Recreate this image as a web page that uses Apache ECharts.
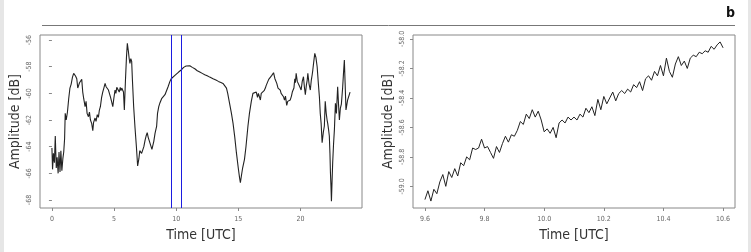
<!DOCTYPE html>
<html><head><meta charset="utf-8">
<script src="https://cdn.jsdelivr.net/npm/echarts@6/dist/echarts.min.js"></script>
<style>html,body{margin:0;padding:0;background:#fff;}#c{width:751px;height:252px;}</style>
</head><body><div id="c"></div>
<script>
// Panel a: full day
const dayTime = [0.00,0.05,0.12,0.20,0.27,0.35,0.42,0.50,0.57,0.65,0.72,0.80,0.88,0.95,1.02,1.07,1.15,1.25,1.35,1.45,1.55,1.65,1.75,1.82,1.90,2.00,2.08,2.14,2.22,2.30,2.40,2.48,2.56,2.67,2.75,2.83,2.94,3.02,3.10,3.20,3.29,3.35,3.47,3.55,3.65,3.74,3.82,3.90,4.00,4.09,4.18,4.28,4.36,4.45,4.55,4.63,4.72,4.80,4.90,4.98,5.08,5.15,5.22,5.30,5.35,5.42,5.50,5.56,5.62,5.70,5.76,5.83,5.92,6.00,6.07,6.15,6.22,6.28,6.35,6.42,6.48,6.58,6.69,6.80,6.90,7.00,7.07,7.14,7.22,7.30,7.40,7.50,7.58,7.67,7.75,7.85,7.95,8.05,8.10,8.20,8.30,8.43,8.50,8.60,8.70,8.83,8.95,9.10,9.23,9.35,9.50,9.60,9.75,9.90,10.03,10.20,10.40,10.60,10.80,10.96,11.10,11.30,11.50,11.70,11.90,12.10,12.30,12.50,12.70,12.97,13.20,13.40,13.60,13.77,13.90,14.05,14.15,14.30,14.45,14.58,14.72,14.85,15.00,15.10,15.17,15.25,15.35,15.50,15.62,15.78,15.90,16.05,16.18,16.25,16.32,16.45,16.55,16.62,16.70,16.78,16.85,16.98,17.08,17.18,17.25,17.35,17.45,17.50,17.60,17.70,17.78,17.84,17.95,18.03,18.10,18.20,18.28,18.38,18.45,18.52,18.64,18.72,18.80,18.90,18.98,19.08,19.18,19.28,19.35,19.40,19.48,19.55,19.60,19.66,19.75,19.85,19.95,20.06,20.15,20.25,20.32,20.40,20.48,20.55,20.60,20.70,20.80,20.88,20.95,21.00,21.08,21.16,21.25,21.35,21.45,21.53,21.60,21.67,21.75,21.85,21.93,22.00,22.08,22.15,22.20,22.28,22.33,22.38,22.42,22.46,22.50,22.55,22.60,22.67,22.74,22.82,22.90,23.00,23.07,23.14,23.22,23.30,23.40,23.47,23.54,23.60,23.67,23.73,23.80,23.90,24.00];
const dayAmp = [-64.1,-65.7,-64.5,-65.2,-63.2,-65.6,-64.8,-66.0,-64.4,-65.9,-64.3,-65.8,-64.9,-64.4,-63.4,-61.5,-62.0,-61.4,-60.4,-59.6,-59.3,-58.8,-58.5,-58.4,-58.7,-58.9,-59.6,-59.7,-59.2,-59.3,-58.95,-59.9,-60.4,-61.0,-60.6,-61.5,-61.75,-61.4,-62.0,-62.25,-62.8,-62.2,-61.85,-62.1,-61.6,-61.8,-61.25,-61.0,-60.3,-59.9,-59.6,-59.25,-59.5,-59.4,-59.75,-59.9,-60.3,-60.6,-61.0,-60.4,-59.75,-60.0,-59.55,-59.7,-59.5,-59.9,-59.55,-59.8,-59.6,-59.7,-59.9,-61.25,-59.0,-57.3,-56.25,-56.8,-57.4,-57.75,-57.4,-57.6,-59.0,-61.0,-62.6,-64.0,-65.45,-64.9,-64.3,-64.2,-64.5,-64.6,-64.0,-63.5,-63.2,-62.95,-63.3,-63.6,-63.9,-64.2,-64.2,-63.6,-63.0,-62.45,-61.5,-61.0,-60.7,-60.4,-60.25,-60.1,-59.95,-59.5,-59.1,-58.9,-58.75,-58.65,-58.6,-58.4,-58.25,-58.05,-57.95,-57.9,-57.93,-58.05,-58.15,-58.3,-58.4,-58.5,-58.6,-58.68,-58.78,-58.9,-59.0,-59.1,-59.18,-59.25,-59.35,-59.6,-60.0,-60.75,-61.5,-62.25,-63.3,-64.45,-65.6,-66.3,-66.7,-66.2,-65.6,-64.95,-64.0,-62.45,-61.5,-60.6,-60.0,-60.15,-59.95,-59.9,-60.3,-60.0,-60.25,-60.5,-60.0,-60.1,-59.8,-59.6,-59.4,-59.3,-58.95,-58.9,-58.85,-58.65,-58.8,-58.45,-58.9,-59.0,-59.25,-59.6,-59.45,-59.75,-60.0,-59.85,-60.25,-60.5,-60.2,-60.9,-60.6,-60.7,-60.5,-60.2,-59.9,-59.9,-59.6,-58.9,-59.2,-58.5,-59.1,-59.0,-59.5,-59.75,-59.1,-58.75,-59.5,-60.1,-59.4,-59.0,-58.5,-59.3,-59.75,-59.0,-58.6,-58.25,-57.6,-57.0,-57.3,-58.0,-59.3,-60.25,-61.5,-62.25,-63.7,-62.9,-62.45,-60.6,-61.5,-62.0,-62.25,-62.8,-63.2,-64.5,-65.95,-66.9,-68.1,-66.6,-65.2,-63.8,-62.7,-60.75,-61.5,-59.5,-60.8,-62.0,-61.1,-60.8,-59.6,-58.5,-57.5,-59.2,-61.25,-60.9,-60.5,-60.2,-59.9];
const windowBounds = [9.6, 10.45];
const dayTicksX = [0, 5, 10, 15, 20];
const dayTicksY = [-56, -58, -60, -62, -64, -66, -68];

// Panel b: zoom window
const zoomTime = [9.60,9.61,9.62,9.63,9.64,9.65,9.66,9.67,9.68,9.69,9.70,9.71,9.72,9.73,9.74,9.75,9.76,9.77,9.78,9.79,9.80,9.81,9.82,9.83,9.84,9.85,9.86,9.87,9.88,9.89,9.90,9.91,9.92,9.93,9.94,9.95,9.96,9.97,9.98,9.99,10.00,10.01,10.02,10.03,10.04,10.05,10.06,10.07,10.08,10.09,10.10,10.11,10.12,10.13,10.14,10.15,10.16,10.17,10.18,10.19,10.20,10.21,10.22,10.23,10.24,10.25,10.26,10.27,10.28,10.29,10.30,10.31,10.32,10.33,10.34,10.35,10.36,10.37,10.38,10.39,10.40,10.41,10.42,10.43,10.44,10.45,10.46,10.47,10.48,10.49,10.50,10.51,10.52,10.53,10.54,10.55,10.56,10.57,10.58,10.59,10.60];
const zoomAmp = [-59.09,-59.03,-59.10,-59.02,-59.05,-58.97,-58.92,-59.00,-58.90,-58.94,-58.88,-58.93,-58.84,-58.86,-58.80,-58.82,-58.74,-58.75,-58.74,-58.68,-58.74,-58.73,-58.77,-58.81,-58.73,-58.77,-58.71,-58.66,-58.70,-58.65,-58.66,-58.62,-58.56,-58.58,-58.51,-58.54,-58.48,-58.53,-58.49,-58.55,-58.63,-58.61,-58.64,-58.60,-58.67,-58.57,-58.55,-58.57,-58.53,-58.55,-58.53,-58.55,-58.51,-58.53,-58.47,-58.50,-58.46,-58.52,-58.41,-58.48,-58.39,-58.44,-58.40,-58.36,-58.42,-58.37,-58.35,-58.37,-58.34,-58.36,-58.31,-58.33,-58.29,-58.35,-58.27,-58.25,-58.28,-58.22,-58.25,-58.18,-58.25,-58.13,-58.22,-58.26,-58.17,-58.12,-58.18,-58.15,-58.20,-58.13,-58.11,-58.12,-58.09,-58.10,-58.08,-58.09,-58.05,-58.07,-58.04,-58.02,-58.06];
const zoomTicksX = [9.6, 9.8, 10.0, 10.2, 10.4, 10.6];
const zoomTicksY = [-58.0, -58.2, -58.4, -58.6, -58.8, -59.0];

const FONT = '"Liberation Sans Narrow", "DejaVu Sans Condensed", "Liberation Sans", sans-serif';
const tickLbl = {fontSize: 7, color: '#666', fontFamily: FONT};
const nameStyle = {fontSize: 14, color: '#333', fontFamily: FONT};

function xAx(gi, min, max, ticks, dec) {
  return {
    type: 'value', gridIndex: gi, min: min, max: max,
    name: 'Time [UTC]', nameLocation: 'middle', nameGap: 20, nameTextStyle: nameStyle,
    axisLine: {show: false}, splitLine: {show: false},
    axisTick: {show: true, length: 3, inside: false, customValues: ticks, lineStyle: {color: '#888'}},
    axisLabel: Object.assign({customValues: ticks, margin: 8, formatter: v => dec ? v.toFixed(1) : String(v)}, tickLbl)
  };
}
function yAx(gi, min, max, ticks, dec) {
  return {
    type: 'value', gridIndex: gi, min: min, max: max,
    name: 'Amplitude [dB]', nameLocation: 'middle', nameGap: 18, nameTextStyle: nameStyle,
    axisLine: {show: false}, splitLine: {show: false},
    axisTick: {show: true, length: 3, inside: false, customValues: ticks, lineStyle: {color: '#888'}},
    axisLabel: Object.assign({customValues: ticks, margin: 7, rotate: 90, formatter: v => dec ? v.toFixed(1) : String(v)}, tickLbl)
  };
}

const chart = echarts.init(document.getElementById('c'), null, {renderer: 'canvas'});
chart.setOption({
  animation: false,
  backgroundColor: '#fff',
  grid: [
    {left: 40, top: 35, width: 322, height: 173, show: true, borderColor: '#888', borderWidth: 1, backgroundColor: 'transparent'},
    {left: 413, top: 35, width: 322, height: 173, show: true, borderColor: '#888', borderWidth: 1, backgroundColor: 'transparent'}
  ],
  xAxis: [xAx(0, -0.96, 24.96, dayTicksX, false), xAx(1, 9.56, 10.64, zoomTicksX, true)],
  yAxis: [yAx(0, -68.6, -55.62, dayTicksY, false), yAx(1, -59.147, -57.973, zoomTicksY, true)],
  series: [
    {type: 'line', xAxisIndex: 0, yAxisIndex: 0, showSymbol: false, lineStyle: {color: '#222', width: 1.1},
     data: dayTime.map((t, i) => [t, dayAmp[i]]),
     markLine: {silent: true, symbol: 'none', label: {show: false}, emphasis: {disabled: true},
       lineStyle: {color: '#1c1ce0', width: 1, type: 'solid'},
       data: windowBounds.map(b => ({xAxis: b, lineStyle: {color: '#1c1ce0', width: 1, type: 'solid'}}))}},
    {type: 'line', xAxisIndex: 1, yAxisIndex: 1, showSymbol: false, lineStyle: {color: '#222', width: 1},
     data: zoomTime.map((t, i) => [t, zoomAmp[i]])}
  ],
  graphic: [
    {type: 'rect', shape: {x: 0, y: 0, width: 4, height: 252}, style: {fill: '#e6e6e6'}},
    {type: 'rect', shape: {x: 748, y: 0, width: 3, height: 252}, style: {fill: '#e6e6e6'}},
    {type: 'line', shape: {x1: 42, y1: 25.5, x2: 735, y2: 25.5}, style: {stroke: '#777', lineWidth: 1}},
    {type: 'text', left: 726, top: 6, style: {text: 'b', font: 'bold 14px ' + FONT, fill: '#111'}}
  ]
});
</script></body></html>
